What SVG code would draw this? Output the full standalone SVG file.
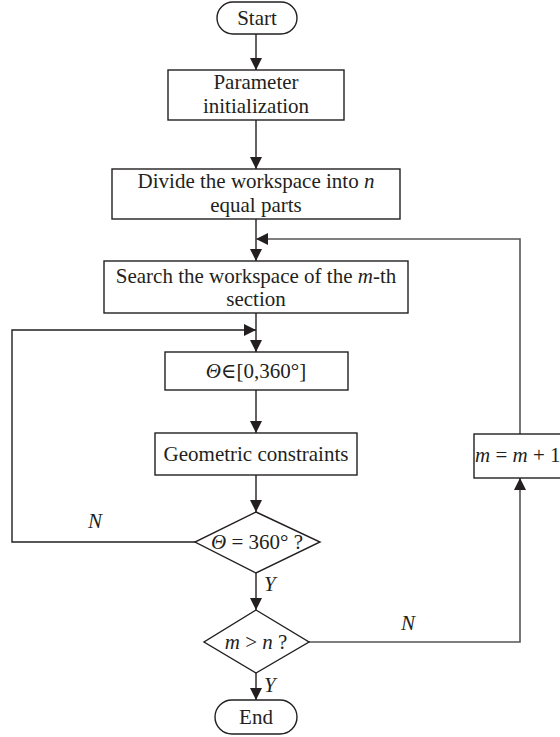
<svg xmlns="http://www.w3.org/2000/svg" width="560" height="737" viewBox="0 0 560 737">
  <defs>
    <marker id="arr" markerUnits="userSpaceOnUse" markerWidth="12" markerHeight="12" refX="12" refY="6" orient="auto">
      <path d="M0,0 L12,6 L0,12 z" fill="#231f20"/>
    </marker>
    <style>
      .box { fill: #fff; stroke: #231f20; stroke-width: 1.4; }
      .ln { fill: none; stroke: #231f20; stroke-width: 1.4; }
      .ln2 { fill: none; stroke: #555; stroke-width: 1.6; }
      text { font-family: "Liberation Serif", "DejaVu Serif", serif; font-size: 21px; fill: #231f20; }
      .c { text-anchor: middle; }
      .i { font-style: italic; }
    </style>
  </defs>
  <rect width="560" height="737" fill="#fff"/>

  <g id="connectors">
    <line class="ln" x1="256" y1="34" x2="256" y2="70" marker-end="url(#arr)"/>
    <line class="ln" x1="256" y1="120" x2="256" y2="169" marker-end="url(#arr)"/>
    <line class="ln" x1="256" y1="219" x2="256" y2="261" marker-end="url(#arr)"/>
    <line class="ln" x1="256" y1="313" x2="256" y2="352" marker-end="url(#arr)"/>
    <line class="ln" x1="256" y1="390" x2="256" y2="433" marker-end="url(#arr)"/>
    <line class="ln" x1="256" y1="475" x2="256" y2="512" marker-end="url(#arr)"/>
    <line class="ln" x1="256" y1="573" x2="256" y2="610" marker-end="url(#arr)"/>
    <line class="ln" x1="256" y1="673" x2="256" y2="700" marker-end="url(#arr)"/>
    <polyline class="ln" points="195,542 12,542 12,330 256,330" marker-end="url(#arr)"/>
    <polyline class="ln2" points="309,642 520,642 520,478" marker-end="url(#arr)"/>
    <polyline class="ln2" points="520,434 520,239 256,239" marker-end="url(#arr)"/>
    <text class="i" x="88" y="528">N</text>
    <text class="i" x="264" y="591">Y</text>
    <text class="i" x="401" y="630">N</text>
    <text class="i" x="264" y="692">Y</text>
  </g>

  <g id="start">
    <rect class="box" x="217" y="2" width="80" height="32" rx="16"/>
    <text class="c" x="257" y="25">Start</text>
  </g>

  <g id="param">
    <rect class="box" x="168" y="70" width="176" height="50"/>
    <text class="c" x="256" y="89">Parameter</text>
    <text class="c" x="256" y="113">initialization</text>
  </g>

  <g id="divide">
    <rect class="box" x="112" y="169" width="288" height="50"/>
    <text class="c" x="256" y="188">Divide the workspace into <tspan class="i">n</tspan></text>
    <text class="c" x="256" y="212">equal parts</text>
  </g>

  <g id="search">
    <rect class="box" x="104" y="261" width="304" height="52"/>
    <text class="c" x="256" y="283">Search the workspace of the <tspan class="i">m</tspan>-th</text>
    <text class="c" x="256" y="306">section</text>
  </g>

  <g id="theta">
    <rect class="box" x="165" y="352" width="183" height="38"/>
    <text class="c" x="256" y="378"><tspan class="i">Θ</tspan>∈[0,360°]</text>
  </g>

  <g id="geom">
    <rect class="box" x="155" y="433" width="202" height="42"/>
    <text class="c" x="256" y="461">Geometric constraints</text>
  </g>

  <g id="dec1">
    <polygon class="box" points="256,512 320,542 256,573 195,542"/>
    <text class="c" x="257" y="549"><tspan class="i">Θ</tspan> = 360° ?</text>
  </g>

  <g id="dec2">
    <polygon class="box" points="256,610 309,642 256,673 204,642"/>
    <text class="c" x="256" y="649"><tspan class="i">m</tspan> &gt; <tspan class="i">n</tspan> ?</text>
  </g>

  <g id="inc">
    <rect class="box" x="474" y="434" width="110" height="44"/>
    <text x="475" y="462"><tspan class="i">m</tspan> = <tspan class="i">m</tspan> + 1</text>
  </g>

  <g id="end">
    <rect class="box" x="215" y="700" width="82" height="34" rx="17"/>
    <text class="c" x="256" y="724">End</text>
  </g>
</svg>
